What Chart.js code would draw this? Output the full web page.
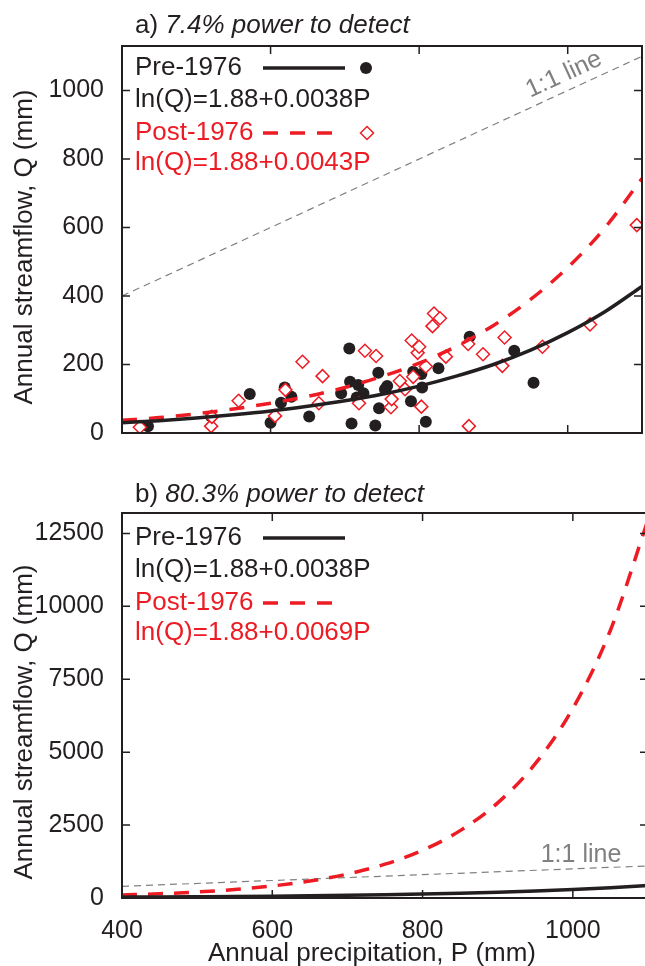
<!DOCTYPE html>
<html>
<head>
<meta charset="utf-8">
<script src="https://cdn.jsdelivr.net/npm/chart.js@4.4.1/dist/chart.umd.min.js"></script>
<style>
  html, body { margin: 0; padding: 0; background: #fff; overflow: hidden; }
  canvas { position: absolute; left: 0; }
  #chartA { top: 0; }
  #chartB { top: 470px; }
</style>
</head>
<body>
<canvas id="chartA" width="650" height="470"></canvas>
<canvas id="chartB" width="650" height="496"></canvas>
<script>
// tick values
const xTicks = [400, 600, 800, 1000];
const yTicksA = [0, 200, 400, 600, 800, 1000];
const yTicksB = [0, 2500, 5000, 7500, 10000, 12500];

// observed points, pre-1976 (filled dots)
const preP = [435, 520, 572, 600, 614, 619, 628, 652, 695, 706, 707, 709, 716, 718, 725, 741, 745, 746, 754, 757, 789, 792, 803, 804, 809, 826, 868, 928, 954];
const preQ = [20, 48, 114, 30, 88, 133, 106, 48, 116, 247, 150, 28, 104, 140, 116, 22, 176, 72, 128, 137, 93, 179, 172, 133, 33, 189, 281, 240, 147];

// observed points, post-1976 (open diamonds)
const postP = [424, 520, 521, 557, 606, 620, 643, 665, 670, 719, 727, 742, 762, 763, 774, 781, 790, 792, 798, 800, 803, 809, 818, 820, 828, 836, 866, 867, 886, 912, 915, 966, 1030, 1093];
const postQ = [17, 20, 47, 94, 50, 126, 208, 87, 166, 87, 240, 225, 75, 99, 152, 128, 270, 164, 234, 252, 77, 194, 312, 349, 335, 223, 260, 20, 230, 196, 279, 252, 317, 607];

// fitted curves
const curveP = [400, 450, 500, 550, 600, 650, 700, 750, 800, 850, 900, 950, 1000, 1050, 1100];
const preFitQ = [30, 36, 44, 53, 64, 78, 94, 113, 137, 166, 200, 242, 293, 354, 428];
const postFitQA = [37, 45, 56, 70, 87, 107, 133, 165, 204, 253, 314, 390, 483, 599, 743];
const postFitQB = [104, 146, 206, 291, 412, 581, 821, 1159, 1636, 2310, 3262, 4605, 6502, 9181, 12963];
const oneToOne = [400, 1100];

const ink = '#231f20', red = '#ed1c24', grey = '#808080';
const family = '"Liberation Sans", Arial, sans-serif';
const txt = '26px ' + family;

Chart.defaults.font.family = family;
Chart.defaults.color = ink;

const pts = (xs, ys) => xs.map((x, i) => ({ x: x, y: ys[i] }));

function lineSet(ys, color, dash, order) {
    return {
        data: pts(curveP, ys),
        showLine: true,
        borderColor: color,
        borderWidth: 3.5,
        borderDash: dash,
        pointRadius: 0,
        cubicInterpolationMode: 'monotone',
        order: order
    };
}

function oneSet() {
    return {
        data: pts(oneToOne, oneToOne),
        showLine: true,
        borderColor: grey,
        borderWidth: 1.2,
        borderDash: [7, 5],
        pointRadius: 0,
        order: 5
    };
}

function deco(opts) {
    return {
        id: 'deco',
        afterDraw(chart) {
            const ctx = chart.ctx, a = chart.chartArea;
            const xs = chart.scales.x, ys = chart.scales.y;
            ctx.save();

            // frame and inward ticks
            ctx.strokeStyle = ink;
            ctx.lineWidth = 2;
            ctx.strokeRect(a.left, a.top, a.right - a.left, a.bottom - a.top);
            ctx.lineWidth = 1.5;
            ctx.beginPath();
            xTicks.forEach(v => {
                const px = xs.getPixelForValue(v);
                ctx.moveTo(px, a.bottom); ctx.lineTo(px, a.bottom - 8);
                ctx.moveTo(px, a.top); ctx.lineTo(px, a.top + 8);
            });
            opts.yTicks.forEach(v => {
                const py = ys.getPixelForValue(v);
                ctx.moveTo(a.left, py); ctx.lineTo(a.left + 8, py);
                ctx.moveTo(a.right, py); ctx.lineTo(a.right - 8, py);
            });
            ctx.stroke();

            // panel title
            ctx.fillStyle = ink;
            ctx.textBaseline = 'middle';
            ctx.textAlign = 'left';
            ctx.font = txt;
            ctx.fillText(opts.tag + ' ', 135, opts.titleY);
            const w = ctx.measureText(opts.tag + ' ').width;
            ctx.font = 'italic ' + txt;
            ctx.fillText(opts.title, 135 + w, opts.titleY);

            // axis titles
            ctx.font = txt;
            ctx.textAlign = 'center';
            ctx.save();
            ctx.translate(25, opts.yTitleY);
            ctx.rotate(-Math.PI / 2);
            ctx.fillText('Annual streamflow, Q (mm)', 0, 0);
            ctx.restore();
            if (opts.xTitleY) {
                ctx.fillText('Annual precipitation, P (mm)', 372, opts.xTitleY);
            }

            // legend
            ctx.textAlign = 'left';
            opts.legend.forEach(r => {
                ctx.fillStyle = r.color;
                ctx.strokeStyle = r.color;
                ctx.fillText(r.text, 135, r.y);
                if (r.sample) {
                    ctx.lineWidth = 3.5;
                    ctx.setLineDash(r.sample === 'dash' ? [15, 12] : []);
                    ctx.beginPath();
                    ctx.moveTo(263, r.y);
                    ctx.lineTo(r.sample === 'dash' ? 336 : 345, r.y);
                    ctx.stroke();
                    ctx.setLineDash([]);
                }
                if (r.marker === 'dot') {
                    ctx.beginPath();
                    ctx.arc(366, r.y, 6, 0, Math.PI * 2);
                    ctx.fill();
                } else if (r.marker === 'diamond') {
                    ctx.lineWidth = 1.5;
                    ctx.beginPath();
                    ctx.moveTo(367, r.y - 6.5);
                    ctx.lineTo(373.5, r.y);
                    ctx.lineTo(367, r.y + 6.5);
                    ctx.lineTo(360.5, r.y);
                    ctx.closePath();
                    ctx.stroke();
                }
            });

            // 1:1 label
            ctx.fillStyle = grey;
            ctx.font = '25px ' + family;
            ctx.textAlign = 'center';
            if (opts.oneRotated) {
                const x0 = xs.getPixelForValue(400), y0 = ys.getPixelForValue(400);
                const x1 = xs.getPixelForValue(1100), y1 = ys.getPixelForValue(1100);
                const ang = Math.atan2(y1 - y0, x1 - x0);
                ctx.translate(xs.getPixelForValue(1004), ys.getPixelForValue(1004));
                ctx.rotate(ang);
                ctx.fillText('1:1 line', 0, -16);
            } else {
                ctx.fillText('1:1 line', 581, opts.oneY);
            }
            ctx.restore();
        }
    };
}

function makeChart(id, datasets, cfg) {
    return new Chart(document.getElementById(id), {
        type: 'scatter',
        data: { datasets: datasets },
        options: {
            responsive: false,
            animation: false,
            events: [],
            layout: { padding: { top: cfg.top, right: 2, left: 0, bottom: 0 } },
            plugins: { legend: { display: false }, tooltip: { enabled: false } },
            scales: {
                x: {
                    type: 'linear', min: 400, max: 1100,
                    grid: { display: false }, border: { display: false },
                    afterBuildTicks: s => { s.ticks = xTicks.map(v => ({ value: v })); },
                    afterFit: s => { s.height = cfg.xH; },
                    ticks: {
                        display: cfg.showX, color: ink, font: { size: 25 }, padding: 10,
                        maxRotation: 0, autoSkip: false, callback: v => String(v)
                    }
                },
                y: {
                    type: 'linear', min: 0, max: cfg.yMax,
                    grid: { display: false }, border: { display: false },
                    afterBuildTicks: s => { s.ticks = cfg.yTicks.map(v => ({ value: v })); },
                    afterFit: s => { s.width = 122; },
                    ticks: { color: ink, font: { size: 25 }, padding: 10, autoSkip: false, callback: v => String(v) }
                }
            }
        },
        plugins: [deco(cfg.deco)]
    });
}

/* Panel a */
makeChart('chartA', [
    lineSet(preFitQ, ink, [], 1),
    lineSet(postFitQA, red, [15, 12], 2),
    {
        data: pts(postP, postQ),
        pointStyle: 'rectRot', pointRadius: 6.5,
        pointBackgroundColor: '#fff', pointBorderColor: red, pointBorderWidth: 1.5,
        order: 3
    },
    {
        data: pts(preP, preQ),
        pointStyle: 'circle', pointRadius: 6,
        pointBackgroundColor: ink, pointBorderWidth: 0,
        order: 4
    },
    oneSet()
], {
    top: 46, xH: 37, showX: false, yMax: 1130, yTicks: yTicksA,
    deco: {
        yTicks: yTicksA, tag: 'a)', title: '7.4% power to detect', titleY: 26, yTitleY: 247,
        oneRotated: true,
        legend: [
            { text: 'Pre-1976', color: ink, y: 68, sample: 'solid', marker: 'dot' },
            { text: 'ln(Q)=1.88+0.0038P', color: ink, y: 100 },
            { text: 'Post-1976', color: red, y: 133, sample: 'dash', marker: 'diamond' },
            { text: 'ln(Q)=1.88+0.0043P', color: red, y: 163 }
        ]
    }
});

/* Panel b */
makeChart('chartB', [
    lineSet(preFitQ, ink, [], 1),
    lineSet(postFitQB, red, [15, 11], 2),
    oneSet()
], {
    top: 43, xH: 68, showX: true, yMax: 13200, yTicks: yTicksB,
    deco: {
        yTicks: yTicksB, tag: 'b)', title: '80.3% power to detect', titleY: 25, yTitleY: 252,
        xTitleY: 484, oneY: 385,
        legend: [
            { text: 'Pre-1976', color: ink, y: 68, sample: 'solid' },
            { text: 'ln(Q)=1.88+0.0038P', color: ink, y: 100 },
            { text: 'Post-1976', color: red, y: 133, sample: 'dash' },
            { text: 'ln(Q)=1.88+0.0069P', color: red, y: 163 }
        ]
    }
});
</script>
</body>
</html>
